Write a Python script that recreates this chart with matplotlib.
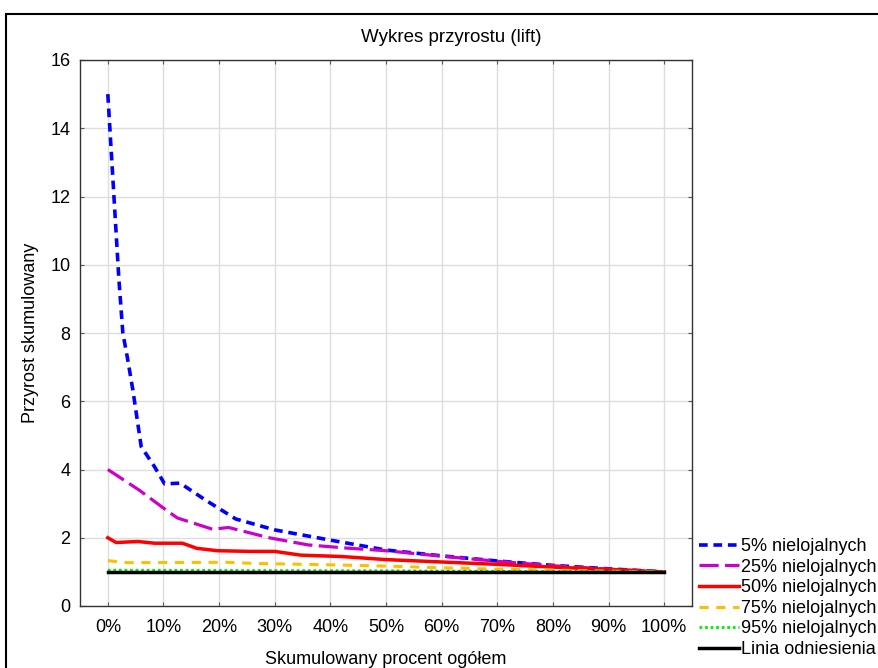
import numpy as np
import matplotlib
matplotlib.use("Agg")
import matplotlib.pyplot as plt
from matplotlib.patches import Rectangle

plt.rcParams['font.family'] = ['Liberation Sans', 'DejaVu Sans']

# lift curves (x in % of population)
x5 = [0, 2.0, 2.7, 3.6, 4.5, 6.0, 8.4, 10.2, 13.0, 17.6, 23, 30, 40, 50, 60, 70, 80, 90, 100]
y5 = [15, 9.55, 8.0, 7.2, 6.33, 4.67, 4.08, 3.58, 3.6, 3.1, 2.55, 2.23, 1.93, 1.64, 1.47, 1.32, 1.19, 1.09, 1.0]

x25 = [0, 5.6, 11, 12.5, 18.8, 21.7, 29, 36, 42.7, 50, 60, 70, 80, 90, 100]
y25 = [4.0, 3.4, 2.75, 2.58, 2.25, 2.3, 2.0, 1.79, 1.7, 1.62, 1.46, 1.31, 1.18, 1.08, 1.0]

x50 = [0, 1.5, 5.4, 8.4, 13.4, 16, 19.7, 25.6, 30, 34.7, 42, 50, 60, 70, 80, 90, 100]
y50 = [2.0, 1.86, 1.89, 1.84, 1.84, 1.69, 1.62, 1.6, 1.6, 1.49, 1.45, 1.36, 1.29, 1.22, 1.14, 1.07, 1.0]

x75 = [0, 3.6, 21.5, 26, 42, 50, 60, 70, 80, 90, 100]
y75 = [1.33, 1.27, 1.28, 1.25, 1.2, 1.17, 1.12, 1.08, 1.05, 1.02, 1.0]

x95 = [0, 50, 100]
y95 = [1.05, 1.03, 1.0]

xref = [0, 100]
yref = [1.0, 1.0]

labels = ["5% nielojalnych", "25% nielojalnych", "50% nielojalnych",
          "75% nielojalnych", "95% nielojalnych", "Linia odniesienia"]

W, H = 879, 668
fs = 13
fig = plt.figure(figsize=(W/100, H/100), dpi=100)
ax = fig.add_axes([80/W, 1-606/H, (692-80)/W, (606-60)/H])

ax.plot(x5, y5, color='#0000ff', lw=2.6, ls=(0, (2.4, 1.6)), label=labels[0])
ax.plot(x25, y25, color='#cc00cc', lw=2.3, ls=(0, (6, 2)), label=labels[1])
ax.plot(x50, y50, color='#ff0000', lw=2.5, label=labels[2])
ax.plot(x75, y75, color='#ffbf00', lw=2.2, ls=(0, (3, 2.5)), label=labels[3])
ax.plot(x95, y95, color='#00ee00', lw=2, ls=(0, (1, 1)), label=labels[4])
ax.plot(xref, yref, color='black', lw=2.5, label=labels[5])

ax.set_xlim(-5, 105)
ax.set_ylim(0, 16)
ax.set_xticks(np.arange(0, 101, 10))
ax.set_xticklabels([f"{v}%" for v in range(0, 101, 10)])
ax.set_yticks(np.arange(0, 17, 2))
ax.grid(True, color='#dddddd', lw=1)
ax.set_axisbelow(True)
ax.tick_params(direction='in', length=3, top=True, right=True, labelsize=fs, color='#555555')
ax.tick_params(axis='x', pad=9)
ax.tick_params(axis='y', pad=7)
for s in ax.spines.values():
    s.set_color('#333333')
    s.set_linewidth(1)

ax.set_xlabel("Skumulowany procent ogółem", fontsize=fs)
ax.set_ylabel("Przyrost skumulowany", fontsize=fs)
ax.xaxis.set_label_coords((386-80)/612, -(659-606)/546)
ax.yaxis.set_label_coords((31-80)/612, 0.5)
ax.xaxis.label.set_va('center')
ax.yaxis.label.set_va('center')
fig.text(451/W, 1-38/H, "Wykres przyrostu (lift)", ha='center', va='center', fontsize=13.5)

fig.legend(loc='upper left', bbox_to_anchor=(699/W, 1-538/H), frameon=False, fontsize=fs,
           handlelength=2.2, handletextpad=0.15, labelspacing=0.2, borderpad=0, borderaxespad=0)

fig.patches.append(Rectangle((6/W, -0.1), 1.2, 1-14/H+0.1, transform=fig.transFigure,
                             fill=False, edgecolor='black', lw=1.5))

fig.savefig("out.png", dpi=100)
